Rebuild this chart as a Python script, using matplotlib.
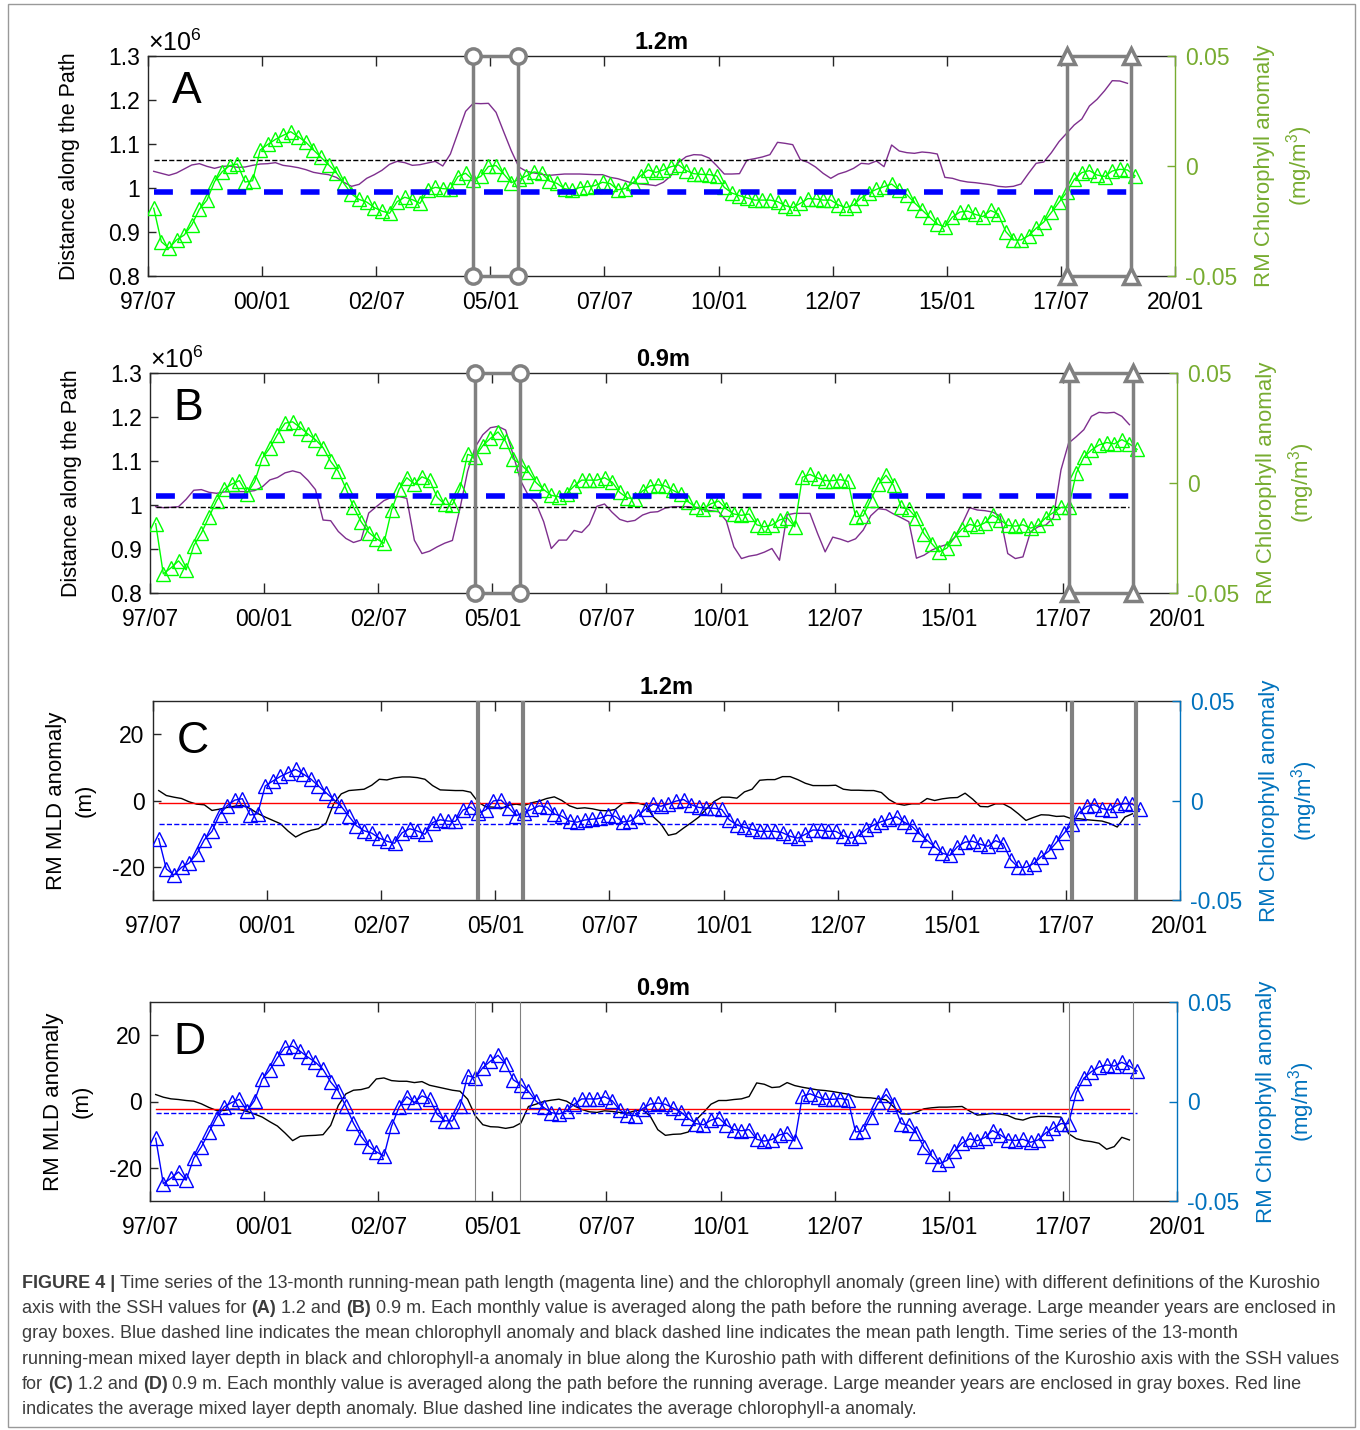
import numpy as np
import pandas as pd
import matplotlib
matplotlib.use('Agg')
import matplotlib.pyplot as plt
from matplotlib import font_manager
from matplotlib.patches import Rectangle


def pick_font(names):
    for n in names:
        try:
            font_manager.findfont(n, fallback_to_default=False)
            return n
        except ValueError:
            pass
    return 'DejaVu Sans'


SANS = pick_font(['Liberation Sans', 'Arial'])
NARROW = pick_font(['Liberation Sans Narrow', 'Liberation Sans'])

plt.rcParams['font.family'] = [SANS, 'DejaVu Sans']
plt.rcParams['axes.unicode_minus'] = False
plt.rcParams['mathtext.fontset'] = 'custom'
plt.rcParams['mathtext.rm'] = SANS
plt.rcParams['mathtext.it'] = SANS + ':italic'
plt.rcParams['mathtext.bf'] = SANS + ':bold'

# ---- data (13-month running means, one value every 2 months from Aug 1997) ----
dates = pd.date_range('1997-08-01', periods=130, freq='2MS')

# chlorophyll anomaly (mg/m3), SSH 1.2 m
chl_12 = [-0.0192, -0.0344, -0.0374, -0.0336, -0.0314, -0.0268, -0.0197, -0.0155, -0.0071, -0.0026,
          0.0002, 0.0009, -0.0073, -0.0067, 0.0073, 0.0098, 0.0121, 0.0139, 0.0156, 0.0133,
          0.0108, 0.0073, 0.0039, 0.0005, -0.0030, -0.0079, -0.0127, -0.0152, -0.0164, -0.0189,
          -0.0205, -0.0215, -0.0162, -0.0142, -0.0153, -0.0170, -0.0111, -0.0097, -0.0103, -0.0105,
          -0.0048, -0.0033, -0.0064, -0.0047, -0.0002, 0.0002, -0.0036, -0.0076, -0.0061, -0.0045,
          -0.0027, -0.0033, -0.0068, -0.0079, -0.0103, -0.0109, -0.0098, -0.0094, -0.0089, -0.0074,
          -0.0080, -0.0108, -0.0103, -0.0076, -0.0044, -0.0018, -0.0029, -0.0018, -0.0003, 0.0005,
          -0.0021, -0.0035, -0.0038, -0.0039, -0.0045, -0.0097, -0.0123, -0.0135, -0.0145, -0.0155,
          -0.0155, -0.0155, -0.0162, -0.0180, -0.0189, -0.0170, -0.0148, -0.0150, -0.0155, -0.0155,
          -0.0177, -0.0189, -0.0177, -0.0145, -0.0123, -0.0106, -0.0094, -0.0082, -0.0109, -0.0130,
          -0.0167, -0.0200, -0.0233, -0.0265, -0.0276, -0.0232, -0.0209, -0.0205, -0.0220, -0.0230,
          -0.0202, -0.0217, -0.0298, -0.0336, -0.0336, -0.0317, -0.0283, -0.0255, -0.0211, -0.0165,
          -0.0120, -0.0061, -0.0030, -0.0021, -0.0041, -0.0048, -0.0023, -0.0015, -0.0018, -0.0045]

# chlorophyll anomaly (mg/m3), SSH 0.9 m
chl_09 = [-0.0185, -0.0413, -0.0386, -0.0354, -0.0395, -0.0285, -0.0228, -0.0154, -0.0081, -0.0027,
          -0.0005, 0.0011, -0.0048, 0.0005, 0.0112, 0.0159, 0.0220, 0.0272, 0.0278, 0.0252,
          0.0223, 0.0197, 0.0161, 0.0098, 0.0053, -0.0025, -0.0109, -0.0176, -0.0225, -0.0253,
          -0.0274, -0.0124, -0.0028, 0.0024, -0.0005, 0.0028, 0.0013, -0.0065, -0.0097, -0.0098,
          -0.0025, 0.0130, 0.0119, 0.0170, 0.0203, 0.0232, 0.0189, 0.0109, 0.0084, 0.0051,
          0.0002, -0.0030, -0.0056, -0.0063, -0.0048, -0.0014, 0.0013, 0.0013, 0.0013, 0.0024,
          0.0004, -0.0043, -0.0068, -0.0071, -0.0036, -0.0013, -0.0008, -0.0014, -0.0033, -0.0052,
          -0.0085, -0.0111, -0.0117, -0.0094, -0.0082, -0.0118, -0.0141, -0.0147, -0.0141, -0.0190,
          -0.0199, -0.0191, -0.0168, -0.0158, -0.0199, 0.0026, 0.0039, 0.0023, 0.0011, 0.0011,
          0.0015, 0.0008, -0.0153, -0.0149, -0.0076, -0.0005, 0.0035, -0.0011, -0.0111, -0.0120,
          -0.0159, -0.0231, -0.0275, -0.0313, -0.0296, -0.0249, -0.0209, -0.0188, -0.0197, -0.0181,
          -0.0146, -0.0167, -0.0193, -0.0196, -0.0190, -0.0205, -0.0193, -0.0158, -0.0134, -0.0111,
          -0.0111, 0.0044, 0.0117, 0.0150, 0.0173, 0.0184, 0.0178, 0.0197, 0.0178, 0.0153]

# path length (x1e6 m), SSH 1.2 m
path_12 = [1.0379, 1.0333, 1.0288, 1.0341, 1.0432, 1.0523, 1.0553, 1.0492, 1.0447, 1.0492,
           1.0500, 1.0470, 1.0477, 1.0515, 1.0545, 1.0553, 1.0576, 1.0515, 1.0492, 1.0462,
           1.0417, 1.0356, 1.0326, 1.0303, 1.0242, 1.0129, 1.0038, 1.0083, 1.0220, 1.0303,
           1.0402, 1.0538, 1.0606, 1.0576, 1.0515, 1.0530, 1.0568, 1.0606, 1.0500, 1.0773,
           1.1258, 1.1742, 1.1924, 1.1917, 1.1924, 1.1720, 1.1280, 1.0848, 1.0477, 1.0379,
           1.0341, 1.0311, 1.0288, 1.0303, 1.0318, 1.0318, 1.0318, 1.0311, 1.0303, 1.0303,
           1.0242, 1.0212, 1.0159, 1.0106, 1.0091, 1.0076, 1.0053, 1.0129, 1.0280, 1.0583,
           1.0712, 1.0758, 1.0750, 1.0682, 1.0508, 1.0318, 1.0318, 1.0326, 1.0636, 1.0667,
           1.0705, 1.0758, 1.1038, 1.1015, 1.0985, 1.0644, 1.0583, 1.0477, 1.0333, 1.0220,
           1.0318, 1.0371, 1.0447, 1.0561, 1.0545, 1.0614, 1.0485, 1.0977, 1.0841, 1.0803,
           1.0788, 1.0818, 1.0803, 1.0773, 1.0242, 1.0220, 1.0167, 1.0136, 1.0121, 1.0098,
           1.0076, 1.0038, 1.0023, 1.0038, 1.0091, 1.0333, 1.0561, 1.0591, 1.0803, 1.1053,
           1.1242, 1.1432, 1.1568, 1.1864, 1.2015, 1.2212, 1.2439, 1.2432, 1.2379]

# path length (x1e6 m), SSH 0.9 m
path_09 = [0.9962, 0.9939, 0.9947, 0.9962, 1.0129, 1.0335, 1.0350, 1.0289, 1.0266, 1.0297,
           1.0304, 1.0304, 1.0304, 1.0327, 1.0411, 1.0570, 1.0624, 1.0730, 1.0776, 1.0730,
           1.0563, 1.0350, 0.9658, 0.9643, 0.9399, 0.9240, 0.9148, 0.9202, 0.9817, 0.9962,
           1.0099, 1.0175, 1.0190, 1.0152, 0.9200, 0.8897, 0.8951, 0.9049, 0.9133, 0.9194,
           0.9924, 1.0768, 1.1316, 1.1597, 1.1757, 1.1787, 1.1703, 1.1133, 1.0540, 1.0213,
           1.0038, 0.9620, 0.9011, 0.9202, 0.9202, 0.9422, 0.9376, 0.9559, 0.9970, 1.0023,
           0.9833, 0.9673, 0.9620, 0.9650, 0.9772, 0.9833, 0.9848, 0.9932, 0.9962, 0.9962,
           0.9962, 0.9932, 0.9894, 0.9871, 0.9848, 0.9643, 0.9049, 0.8783, 0.8837, 0.8867,
           0.8928, 0.9011, 0.8745, 0.9779, 0.9810, 0.9810, 0.9810, 0.9354, 0.8935, 0.9270,
           0.9224, 0.9163, 0.9232, 0.9430, 0.9757, 0.9916, 0.9894, 0.9795, 0.9711, 0.9620,
           0.8791, 0.8859, 0.8973, 0.9049, 0.9103, 0.9262, 0.9567, 0.9939, 0.9886, 0.9871,
           0.9840, 0.9749, 0.8897, 0.8783, 0.8821, 0.9392, 0.9506, 0.9544, 0.9711, 1.0798,
           1.1407, 1.1551, 1.1711, 1.2015, 1.2106, 1.2091, 1.2106, 1.2015, 1.1825]

# mixed layer depth anomaly (m), SSH 1.2 m
mld_12 = [3.0, 1.5, 1.0, 0.6, -0.4, -1.1, -1.3, -3.0, -2.6, -2.1,
          -1.7, -1.5, -2.4, -3.9, -5.0, -6.0, -7.0, -9.2, -11.0, -9.8,
          -9.0, -8.5, -6.8, -1.0, 2.0, 3.0, 3.2, 3.4, 4.6, 6.4,
          6.2, 6.8, 7.1, 7.1, 6.9, 6.4, 4.5, 3.2, 3.1, 3.0,
          3.0, 2.5, -0.5, -1.9, -2.0, -2.5, -1.4, -1.1, -1.5, -0.7,
          -0.2, 0.6, 1.1, 0.0, -1.6, -2.4, -2.2, -2.5, -3.0, -3.1,
          -2.7, -0.9, -0.6, -0.8, -1.4, -4.9, -7.0, -10.5, -10.0, -8.3,
          -6.7, -5.0, -2.5, -0.3, 1.0, 1.0, 0.7, 2.6, 3.4, 6.1,
          6.3, 6.3, 7.2, 7.2, 6.3, 5.2, 4.5, 4.5, 4.5, 4.6,
          3.4, 3.1, 3.1, 3.0, 3.0, 2.4, 0.3, -1.0, -1.4, -1.0,
          -1.0, 0.6, 0.0, 0.5, 0.8, 0.9, 2.2, 0.4, -1.8, -1.9,
          -1.0, -1.0, -2.2, -4.0, -6.0, -5.1, -4.3, -4.4, -4.8, -4.7,
          -5.5, -5.5, -5.8, -6.0, -6.2, -6.9, -8.0, -5.0, -4.0]

# mixed layer depth anomaly (m), SSH 0.9 m
mld_09 = [2.1, 1.3, 0.8, 0.6, 0.3, 0.1, -0.7, -1.8, -2.7, -2.7,
          -2.3, -2.4, -3.0, -3.8, -4.7, -6.1, -7.4, -9.5, -11.8, -10.5,
          -10.3, -10.2, -10.0, -7.2, -1.2, 2.3, 3.4, 3.6, 4.2, 6.8,
          7.1, 6.3, 6.1, 6.1, 5.7, 6.0, 4.9, 4.4, 3.9, 3.4,
          3.1, 0.7, -4.3, -7.0, -7.6, -7.7, -8.1, -7.7, -6.5, -1.5,
          -0.8, 0.0, 0.4, 0.7, 0.1, -1.3, -2.4, -3.1, -3.3, -2.8,
          -3.0, -3.3, -3.5, -2.8, -2.5, -4.4, -8.5, -10.2, -9.9, -9.8,
          -9.2, -5.6, -3.3, -0.8, 0.3, 0.3, 0.6, 0.8, 1.5, 5.6,
          5.2, 4.2, 4.4, 5.7, 4.8, 4.3, 3.9, 3.5, 3.3, 3.0,
          2.6, 2.2, 1.4, 1.2, 1.1, 0.8, 0.5, -1.6, -3.7, -3.8,
          -3.2, -2.2, -1.9, -1.7, -1.7, -1.6, -1.5, -2.9, -4.1, -3.9,
          -3.6, -3.8, -4.2, -5.2, -5.6, -4.8, -4.5, -4.5, -4.6, -4.7,
          -9.7, -11.2, -11.8, -12.1, -12.6, -14.4, -13.6, -10.8, -11.6]

# reference lines
mean_chl_12 = -0.0117
mean_chl_09 = -0.0060
mean_path_12 = 1.063
mean_path_09 = 0.995
mean_mld_12 = -0.9
mean_mld_09 = -2.4

# large meander periods (decimal years)
meander_years = [(2004.63, 2005.61), (2017.63, 2019.04)]

tick_years = [1997.5, 2000.0, 2002.5, 2005.0, 2007.5, 2010.0, 2012.5, 2015.0, 2017.5, 2020.0]
tick_labels = ['97/07', '00/01', '02/07', '05/01', '07/07', '10/01', '12/07', '15/01', '17/07', '20/01']

caption_lines = [
    [('FIGURE 4 |', True), ('Time series of the 13-month running-mean path length (magenta line) and the '
                            'chlorophyll anomaly (green line) with different definitions of the Kuroshio', False)],
    [('axis with the SSH values for', False), ('(A)', True), ('1.2 and', False), ('(B)', True),
     ('0.9 m. Each monthly value is averaged along the path before the running average. '
      'Large meander years are enclosed in', False)],
    [('gray boxes. Blue dashed line indicates the mean chlorophyll anomaly and black dashed line '
      'indicates the mean path length. Time series of the 13-month', False)],
    [('running-mean mixed layer depth in black and chlorophyll-a anomaly in blue along the Kuroshio '
      'path with different definitions of the Kuroshio axis with the SSH values', False)],
    [('for', False), ('(C)', True), ('1.2 and', False), ('(D)', True),
     ('0.9 m. Each monthly value is averaged along the path before the running average. '
      'Large meander years are enclosed in gray boxes. Red line', False)],
    [('indicates the average mixed layer depth anomaly. Blue dashed line indicates the average '
      'chlorophyll-a anomaly.', False)],
]

t = np.asarray(dates.year + (dates.month - 0.5) / 12.0)
t_chl = t
t_line = t[:len(path_12)]

W, H = 1360, 1430
AX_COL = '0.15'
GREEN_AX = (0.466, 0.674, 0.188)
BLUE_AX = (0.0, 0.447, 0.741)
PURPLE = (0.494, 0.184, 0.556)
GRAY = '0.5'
MS = 10.5


def add_axes_px(fig, l, top, r, b):
    return fig.add_axes([l / W, 1 - b / H, (r - l) / W, (b - top) / H])


def base_axes(ax, title, letter, letter_y):
    ax.set_xlim(1997.5, 2020.0)
    ax.set_xticks(tick_years)
    ax.set_xticklabels(tick_labels)
    ax.tick_params(axis='x', direction='in', top=True, length=7, width=1,
                   labelsize=16.5, pad=11, color=AX_COL)
    ax.tick_params(axis='y', direction='in', right=False, length=6, width=1,
                   labelsize=16.5, pad=6, color=AX_COL)
    for s in ['left', 'top', 'bottom']:
        ax.spines[s].set_color(AX_COL)
        ax.spines[s].set_linewidth(1.0)
    ax.spines['right'].set_visible(False)
    ax.set_title(title, fontsize=17, fontweight='bold', pad=5)
    ax.text(0.023, letter_y, letter, transform=ax.transAxes, fontsize=32,
            ha='left', va='top')


def right_axes(ax, color):
    ax2 = ax.twinx()
    ax2.set_ylim(-0.05, 0.05)
    ax2.set_yticks([-0.05, 0, 0.05])
    ax2.set_yticklabels(['-0.05', '0', '0.05'])
    ax2.tick_params(axis='y', direction='in', length=6, width=1, labelsize=16.5,
                    pad=7, colors=color)
    for s in ['left', 'top', 'bottom']:
        ax2.spines[s].set_visible(False)
    ax2.spines['right'].set_color(color)
    ax2.spines['right'].set_linewidth(1.0)
    ax2.set_ylabel('RM Chlorophyll anomaly\n(mg/m$^{3}$)', color=color, fontsize=16,
                   linespacing=1.4, va='center', rotation=90)
    ax2.yaxis.set_label_coords(1.107, 0.5)
    return ax2


def path_panel(fig, rect, title, letter, path, chl, mean_path, mean_chl):
    ax = add_axes_px(fig, *rect)
    base_axes(ax, title, letter, 0.93)
    ax.set_ylim(0.8, 1.3)
    ax.set_yticks([0.8, 0.9, 1.0, 1.1, 1.2, 1.3])
    ax.set_yticklabels(['0.8', '0.9', '1', '1.1', '1.2', '1.3'])
    ax.set_ylabel('Distance along the Path', fontsize=15.5, family=[NARROW, SANS], va='center')
    ax.yaxis.set_label_coords(-0.076, 0.5)
    ax.text(0.0, 1.0, r'$\times 10^{6}$', transform=ax.transAxes, fontsize=18,
            ha='left', va='bottom')
    ax.plot(t_line, path, color=PURPLE, lw=1.0)
    ax.plot([t_line[0], t_line[-1]], [mean_path, mean_path], 'k--', lw=1.0)

    ax2 = right_axes(ax, GREEN_AX)
    ax2.plot(t_chl, chl, color='#00ff00', lw=1.0, marker='^', ms=MS, mfc='none',
             mec='#00ff00', mew=1.0)
    ax2.plot([t_line[0], t_line[-1]], [mean_chl, mean_chl], color='#0000ff', lw=4,
             linestyle=(0, (3.4, 3.2)))
    for (t1, t2), mk in zip(meander_years, ['o', '^']):
        ax2.plot([t1, t1, t2, t2, t1], [-0.05, 0.05, 0.05, -0.05, -0.05], color=GRAY,
                 lw=2.5, clip_on=False, zorder=5)
        ax2.plot([t1, t1, t2, t2], [-0.05, 0.05, 0.05, -0.05], ls='none', marker=mk,
                 ms=11, mfc='white', mec=GRAY, mew=2.5, clip_on=False, zorder=6)
    return ax, ax2


def mld_panel(fig, rect, title, letter, mld, chl, mean_mld, mean_chl, box_lw):
    ax = add_axes_px(fig, *rect)
    base_axes(ax, title, letter, 0.9)
    ax.set_ylim(-30, 30)
    ax.set_yticks([-20, 0, 20])
    ax.set_yticklabels(['-20', '0', '20'])
    ax.set_ylabel('RM MLD anomaly\n(m)', fontsize=16, linespacing=1.5, va='center')
    ax.yaxis.set_label_coords(-0.08, 0.5)
    ax.plot(t_line, mld, color='k', lw=1.0)
    ax.plot([t_line[0], t_line[-1]], [mean_mld, mean_mld], color='red', lw=1.0)

    ax2 = right_axes(ax, BLUE_AX)
    ax2.plot(t_chl, chl, color='#0000ff', lw=1.0, marker='^', ms=MS, mfc='none',
             mec='#0000ff', mew=1.0)
    ax2.plot([t_line[0], t_chl[-1]], [mean_chl, mean_chl], color='#0000ff', lw=1.0,
             linestyle='--')
    for t1, t2 in meander_years:
        for tt in (t1, t2):
            ax2.axvline(tt, color=GRAY, lw=box_lw, zorder=5)
    return ax, ax2


fig = plt.figure(figsize=(W / 100, H / 100), dpi=100)

path_panel(fig, (148, 56, 1175, 276), '1.2m', 'A', path_12, chl_12, mean_path_12, mean_chl_12)
path_panel(fig, (150, 373, 1177, 593), '0.9m', 'B', path_09, chl_09, mean_path_09, mean_chl_09)
mld_panel(fig, (153, 701, 1180, 900), '1.2m', 'C', mld_12, chl_12, mean_mld_12, mean_chl_12, 3.0)
mld_panel(fig, (150, 1002, 1177, 1201), '0.9m', 'D', mld_09, chl_09, mean_mld_09, mean_chl_09, 0.8)

# outer frame
fig.patches.append(Rectangle((8 / W, 1 - 1427 / H), (1355 - 8) / W, (1427 - 4) / H,
                             transform=fig.transFigure, fill=False, ec='0.6', lw=1.0))

# caption with bold pieces
renderer = fig.canvas.get_renderer()
cap_font = [NARROW, SANS]
cap_color = '#3c3c3c'


def text_width(s, size, bold):
    tt = fig.text(0, 0, s, fontsize=size, family=cap_font,
                  fontweight='bold' if bold else 'normal')
    w = tt.get_window_extent(renderer).width
    tt.remove()
    return w


def line_width(parts, size):
    sp = text_width('a a', size, False) - text_width('aa', size, False)
    return sum(text_width(s, size, b) for s, b in parts) + sp * (len(parts) - 1)


cap_size = 13.0
cap_size = cap_size * 1294.0 / line_width(caption_lines[0], cap_size)
space_w = text_width('a a', cap_size, False) - text_width('aa', cap_size, False)
for i, parts in enumerate(caption_lines):
    x = 22.0
    y = 1283.0 + i * 25.4
    for s, b in parts:
        tt = fig.text(x / W, 1 - y / H, s, fontsize=cap_size, family=cap_font,
                      fontweight='bold' if b else 'normal', color=cap_color,
                      ha='left', va='center')
        x += tt.get_window_extent(renderer).width + space_w

fig.savefig('out.png', dpi=100)
